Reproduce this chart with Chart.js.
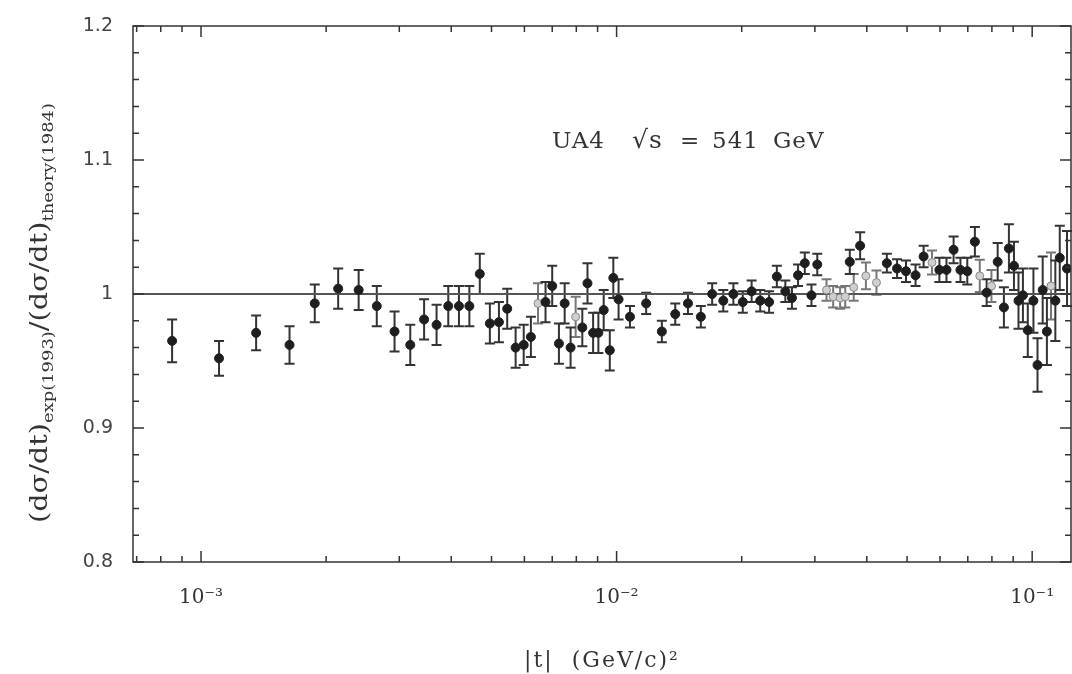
<!DOCTYPE html>
<html>
<head>
<meta charset="utf-8">
<script src="https://cdn.jsdelivr.net/npm/chart.js@4.4.1/dist/chart.umd.min.js"></script>
<style>
  html, body { margin: 0; padding: 0; background: #fff; }
  #wrap { width: 1072px; height: 674px; }
</style>
</head>
<body>
<div id="wrap"><canvas id="ratioChart"></canvas></div>
<script>
// |t| in (GeV/c)^2 for the filled points
const tClosed = [
  8.52e-4, 1.105e-3, 1.357e-3, 1.633e-3, 1.878e-3, 2.138e-3, 2.395e-3, 2.648e-3,
  2.922e-3, 3.188e-3, 3.442e-3, 3.688e-3, 3.935e-3, 4.175e-3, 4.423e-3, 4.686e-3,
  4.955e-3, 5.21e-3, 5.455e-3, 5.715e-3, 5.977e-3, 6.22e-3, 6.745e-3, 7.0e-3,
  7.265e-3, 7.5e-3, 7.75e-3, 8.27e-3, 8.51e-3, 8.78e-3, 9.04e-3, 9.31e-3,
  9.63e-3, 9.82e-3, 1.011e-2, 1.077e-2, 1.178e-2, 1.285e-2, 1.384e-2, 1.485e-2,
  1.595e-2, 1.698e-2, 1.806e-2, 1.91e-2, 2.012e-2, 2.113e-2, 2.216e-2, 2.328e-2,
  2.43e-2, 2.547e-2, 2.642e-2, 2.733e-2, 2.837e-2, 2.944e-2, 3.04e-2, 3.64e-2,
  3.855e-2, 4.47e-2, 4.73e-2, 4.97e-2, 5.24e-2, 5.48e-2, 5.98e-2, 6.22e-2,
  6.47e-2, 6.72e-2, 6.98e-2, 7.28e-2, 7.77e-2, 8.26e-2, 8.55e-2, 8.79e-2,
  9.04e-2, 9.27e-2, 9.5e-2, 9.76e-2, 0.1007, 0.103, 0.106, 0.1085,
  0.1137, 0.1165, 0.1213
]
// (dσ/dt)exp / (dσ/dt)theory
const ratioClosed = [
  0.965, 0.952, 0.971, 0.962, 0.993, 1.004, 1.003, 0.991,
  0.972, 0.962, 0.981, 0.977, 0.991, 0.991, 0.991, 1.015,
  0.978, 0.979, 0.989, 0.960, 0.962, 0.968, 0.994, 1.006,
  0.963, 0.993, 0.960, 0.975, 1.008, 0.971, 0.971, 0.988,
  0.958, 1.012, 0.996, 0.983, 0.993, 0.972, 0.985, 0.993,
  0.983, 1.000, 0.995, 1.000, 0.994, 1.002, 0.995, 0.994,
  1.013, 1.002, 0.997, 1.014, 1.023, 0.999, 1.022, 1.024,
  1.036, 1.023, 1.019, 1.017, 1.014, 1.028, 1.018, 1.018,
  1.033, 1.018, 1.017, 1.039, 1.001, 1.024, 0.990, 1.034,
  1.021, 0.995, 0.999, 0.973, 0.995, 0.947, 1.003, 0.972,
  0.995, 1.027, 1.019
]
const errClosed = [
  0.016, 0.013, 0.013, 0.014, 0.014, 0.015, 0.015, 0.015,
  0.015, 0.015, 0.015, 0.015, 0.015, 0.015, 0.015, 0.015,
  0.015, 0.015, 0.015, 0.015, 0.015, 0.015, 0.015, 0.015,
  0.015, 0.015, 0.015, 0.014, 0.015, 0.015, 0.015, 0.015,
  0.015, 0.015, 0.015, 0.008, 0.008, 0.008, 0.008, 0.008,
  0.008, 0.008, 0.008, 0.008, 0.008, 0.008, 0.008, 0.008,
  0.008, 0.008, 0.008, 0.008, 0.008, 0.008, 0.008, 0.009,
  0.010, 0.007, 0.007, 0.008, 0.008, 0.008, 0.009, 0.009,
  0.010, 0.009, 0.010, 0.011, 0.010, 0.014, 0.015, 0.018,
  0.018, 0.021, 0.020, 0.020, 0.024, 0.020, 0.025, 0.025,
  0.030, 0.024, 0.028
]

// open (grey) points
const tOpen = [6.47e-3, 7.97e-3, 3.2e-2, 3.32e-2, 3.45e-2, 3.55e-2, 3.72e-2, 3.98e-2, 4.22e-2, 5.74e-2, 7.48e-2, 7.98e-2, 0.111]
const ratioOpen = [0.993, 0.983, 1.003, 0.998, 0.997, 0.998, 1.005, 1.0135, 1.0085, 1.0235, 1.0135, 1.006, 1.006]
const errOpen = [0.015, 0.015, 0.008, 0.008, 0.008, 0.008, 0.010, 0.010, 0.009, 0.009, 0.012, 0.012, 0.025]

const xMin = 6.86e-4
const xMax = 0.124
const yMin = 0.8
const yMax = 1.2

// reference line at ratio = 1
const unityT = [xMin, xMax]
const unityRatio = [1, 1]

const decadeLabels = { '-3': '10⁻³', '-2': '10⁻²', '-1': '10⁻¹' }

function pts(xs, ys) {
  return xs.map((x, i) => ({ x: x, y: ys[i] }))
}

function isDecade(v) {
  const l = Math.log10(v)
  return Math.abs(l - Math.round(l)) < 1e-9
}

function isMajorY(v) {
  return Math.abs(v * 10 - Math.round(v * 10)) < 1e-6
}

// vertical error bars with caps, drawn under the markers
const errorBars = {
  id: 'errorBars',
  beforeDatasetsDraw(chart) {
    const ctx = chart.ctx
    const y = chart.scales.y
    chart.data.datasets.forEach((ds, di) => {
      if (!ds.errors) return
      const meta = chart.getDatasetMeta(di)
      ctx.save()
      ctx.strokeStyle = ds.barColor
      ctx.lineWidth = 2
      meta.data.forEach((el, i) => {
        const v = ds.data[i].y
        const top = y.getPixelForValue(v + ds.errors[i])
        const bot = y.getPixelForValue(v - ds.errors[i])
        ctx.beginPath()
        ctx.moveTo(el.x, top); ctx.lineTo(el.x, bot)
        ctx.moveTo(el.x - 5, top); ctx.lineTo(el.x + 5, top)
        ctx.moveTo(el.x - 5, bot); ctx.lineTo(el.x + 5, bot)
        ctx.stroke()
      })
      ctx.restore()
    })
  }
}

// box frame with inward ticks on all four sides, plus the text annotations
const frame = {
  id: 'frame',
  afterDraw(chart) {
    const ctx = chart.ctx
    const a = chart.chartArea
    const xs = chart.scales.x
    const ys = chart.scales.y
    ctx.save()
    ctx.strokeStyle = '#333'
    ctx.lineWidth = 1.5
    ctx.strokeRect(a.left, a.top, a.right - a.left, a.bottom - a.top)

    ctx.beginPath()
    ys.ticks.forEach(t => {
      const p = ys.getPixelForValue(t.value)
      const len = isMajorY(t.value) ? 11 : 6
      ctx.moveTo(a.left, p); ctx.lineTo(a.left + len, p)
      ctx.moveTo(a.right, p); ctx.lineTo(a.right - len, p)
    })
    xs.ticks.forEach(t => {
      const p = xs.getPixelForValue(t.value)
      const len = isDecade(t.value) ? 11 : 6
      ctx.moveTo(p, a.bottom); ctx.lineTo(p, a.bottom - len)
      ctx.moveTo(p, a.top); ctx.lineTo(p, a.top + len)
    })
    ctx.stroke()

    // y axis title with subscripts, stretched to the axis height
    const parts = [
      ['(dσ/dt)', false], ['exp(1993)', true],
      ['/(dσ/dt)', false], ['theory(1984)', true]
    ]
    const mainFont = '24px "DejaVu Serif"'
    const subFont = '15px "DejaVu Serif"'
    let total = 0
    const widths = parts.map(p => {
      ctx.font = p[1] ? subFont : mainFont
      const w = ctx.measureText(p[0]).width
      total += w
      return w
    })
    ctx.translate(47, 313)
    ctx.rotate(-Math.PI / 2)
    ctx.scale(420 / total, 1)
    ctx.fillStyle = '#333'
    ctx.textBaseline = 'alphabetic'
    let x = -total / 2
    parts.forEach((p, i) => {
      ctx.font = p[1] ? subFont : mainFont
      ctx.fillText(p[0], x, p[1] ? 6 : 0)
      x += widths[i]
    })
    ctx.restore()

    ctx.save()
    ctx.fillStyle = '#333'
    ctx.textBaseline = 'alphabetic'
    ctx.font = '22px "DejaVu Serif"'
    ctx.textAlign = 'center'
    ctx.letterSpacing = '2px'
    ctx.fillText('|t|  (GeV/c)²', (a.left + a.right) / 2, 667)

    ctx.letterSpacing = '1px'
    ctx.font = '23px "DejaVu Serif"'
    ctx.textAlign = 'left'
    ctx.fillText('UA4', 552, 148)
    ctx.font = '25px "DejaVu Serif"'
    ctx.fillText('√s', 632, 148)
    ctx.font = '23px "DejaVu Serif"'
    ctx.fillText('=', 680, 148)
    ctx.fillText('541', 712, 148)
    ctx.fillText('GeV', 773, 148)
    ctx.restore()
  }
}

new Chart(document.getElementById('ratioChart'), {
  type: 'scatter',
  data: {
    datasets: [
      {
        type: 'line',
        data: pts(unityT, unityRatio),
        borderColor: '#555',
        borderWidth: 2,
        pointRadius: 0,
        order: 3
      },
      {
        data: pts(tOpen, ratioOpen),
        errors: errOpen,
        barColor: '#777',
        pointRadius: 4,
        pointBackgroundColor: '#cfcfcf',
        pointBorderColor: '#8a8a8a',
        pointBorderWidth: 1,
        order: 2
      },
      {
        data: pts(tClosed, ratioClosed),
        errors: errClosed,
        barColor: '#333',
        pointRadius: 4.5,
        pointBackgroundColor: '#1e1e1e',
        pointBorderColor: '#1e1e1e',
        pointBorderWidth: 1,
        order: 1
      }
    ]
  },
  options: {
    responsive: true,
    maintainAspectRatio: false,
    animation: false,
    events: [],
    layout: { autoPadding: false, padding: { top: 26, right: 1, left: 0, bottom: 0 } },
    plugins: { legend: { display: false }, tooltip: { enabled: false } },
    scales: {
      x: {
        type: 'logarithmic',
        min: xMin,
        max: xMax,
        grid: { display: false, drawTicks: false },
        border: { display: false },
        afterBuildTicks(scale) {
          const ticks = []
          for (let n = -4; n <= 0; n++) {
            for (let k = 1; k <= 9; k++) {
              const v = k * Math.pow(10, n)
              if (v >= xMin && v <= xMax) ticks.push({ value: v })
            }
          }
          scale.ticks = ticks
        },
        afterFit(scale) {
          scale.height = 112
          scale.paddingLeft = 0
          scale.paddingRight = 0
        },
        ticks: {
          autoSkip: false,
          maxRotation: 0,
          padding: 24,
          color: '#333',
          font: { family: 'DejaVu Serif', size: 20 },
          callback(v) {
            if (!isDecade(v)) return ''
            return decadeLabels[String(Math.round(Math.log10(v)))] || ''
          }
        }
      },
      y: {
        min: yMin,
        max: yMax,
        grid: { display: false, drawTicks: false },
        border: { display: false },
        afterFit(scale) {
          scale.width = 133
          scale.paddingTop = 0
          scale.paddingBottom = 0
        },
        ticks: {
          stepSize: 0.02,
          autoSkip: false,
          padding: 20,
          color: '#444',
          font: { family: 'DejaVu Sans', size: 19 },
          callback(v) {
            return isMajorY(v) ? String(Number(v.toFixed(1))) : ''
          }
        }
      }
    }
  },
  plugins: [errorBars, frame]
})
</script>
</body>
</html>
